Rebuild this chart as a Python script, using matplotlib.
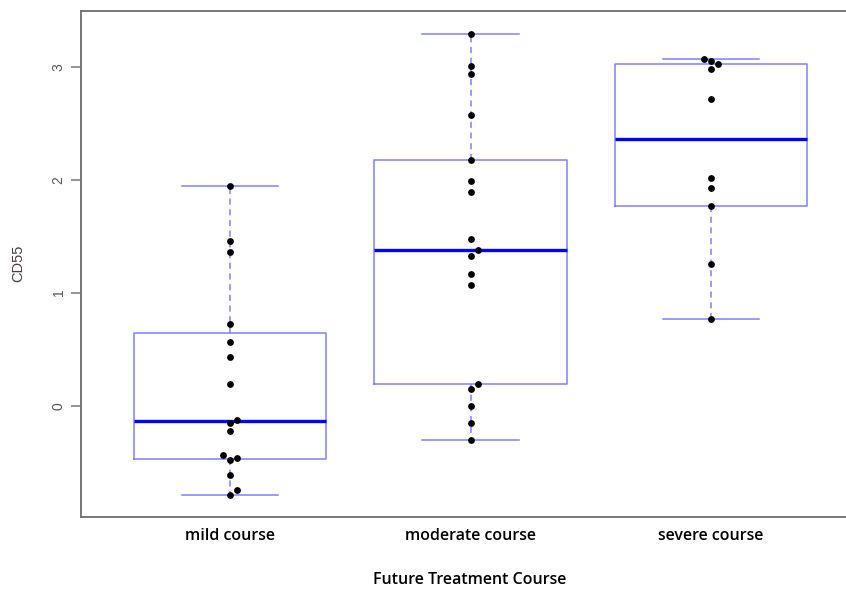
import matplotlib
matplotlib.use("Agg")
import matplotlib.pyplot as plt
import numpy as np

# values
categories = ["mild course", "moderate course", "severe course"]
mild = [1.945, 1.456, 1.356, 0.724, 0.562, 0.43, 0.193, -0.13, -0.149,
        -0.226, -0.44, -0.46, -0.48, -0.615, -0.742, -0.786]
moderate = [3.285, 3.007, 2.931, 2.568, 2.173, 1.987, 1.892, 1.473, 1.376,
            1.329, 1.161, 1.066, 0.19, 0.146, -0.002, -0.149, -0.3]
severe = [3.064, 3.051, 3.022, 2.975, 2.71, 2.016, 1.927, 1.771, 1.255, 0.768]
yticks = [0, 1, 2, 3]

groups = [mild, moderate, severe]


def fivenum(v):
    # Tukey five number summary, as R's boxplot uses
    v = np.sort(np.asarray(v, dtype=float))
    n = len(v)
    n4 = np.floor((n + 3) / 2) / 2
    d = np.array([1, n4, (n + 1) / 2, n + 1 - n4, n]) - 1
    return 0.5 * (v[np.floor(d).astype(int)] + v[np.ceil(d).astype(int)])


box_col = "#8080ff"
fig = plt.figure(figsize=(8.46, 5.91), dpi=100)
ax = fig.add_axes([81 / 846, 1 - 517 / 591, 1 - 81 / 846, (517 - 10.5) / 591])
ax.set_xlim(0.38, 3.561)
ax.set_ylim(-0.985, 3.497)

stats = []
for i, g in enumerate(groups):
    lo, q1, med, q3, hi = fivenum(g)
    stats.append(dict(med=med, q1=q1, q3=q3, whislo=lo, whishi=hi, fliers=[], label=categories[i]))

ax.bxp(stats, positions=[1, 2, 3], widths=0.8, showfliers=False,
       boxprops=dict(color=box_col, lw=1.1),
       whiskerprops=dict(color=box_col, lw=1.1, linestyle=(0, (4, 3))),
       capprops=dict(color=box_col, lw=1.1),
       medianprops=dict(color="#0000ff", lw=2.4),
       capwidths=0.4)

# nudge overlapping points sideways, like a small beeswarm
fig.canvas.draw()
step_px = 7.0
for i, g in enumerate(groups):
    placed = []
    for v in sorted(g):
        cands = [0]
        for j in range(1, 6):
            cands += [j, -j]
        for c in cands:
            x0, y0 = ax.transData.transform((i + 1, v))
            px = x0 + c * step_px
            if all(np.hypot(px - a, y0 - b) >= step_px for a, b in placed):
                placed.append((px, y0))
                break
    pts = ax.transData.inverted().transform(np.array(placed))
    ax.scatter(pts[:, 0], pts[:, 1], s=24, color="black", zorder=5, linewidths=0)

for s in ["top", "left", "bottom"]:
    ax.spines[s].set_color("#777777")
    ax.spines[s].set_linewidth(1.4)
ax.spines["right"].set_visible(False)

ax.set_yticks(yticks)
ax.set_yticklabels([str(t) for t in yticks], rotation=90, va="center",
                   fontsize=10, color="#555555", family="Liberation Sans")
ax.tick_params(axis="y", length=7, width=1.1, color="#777777", pad=4)
ax.set_xticks([1, 2, 3])
ax.set_xticklabels(categories, fontsize=11.5, family="Open Sans", fontweight="semibold")
ax.tick_params(axis="x", length=0, pad=8)

ax.set_ylabel("CD55", fontsize=10.5, color="#4a3a3a", family="Liberation Sans")
ax.yaxis.set_label_coords(-0.073, 0.5)
ax.set_xlabel("Future Treatment Course", fontsize=11.5, family="Open Sans",
              fontweight="semibold", va="center")
ax.xaxis.set_label_coords(0.508, -0.124)

fig.savefig("out.png", dpi=100)
